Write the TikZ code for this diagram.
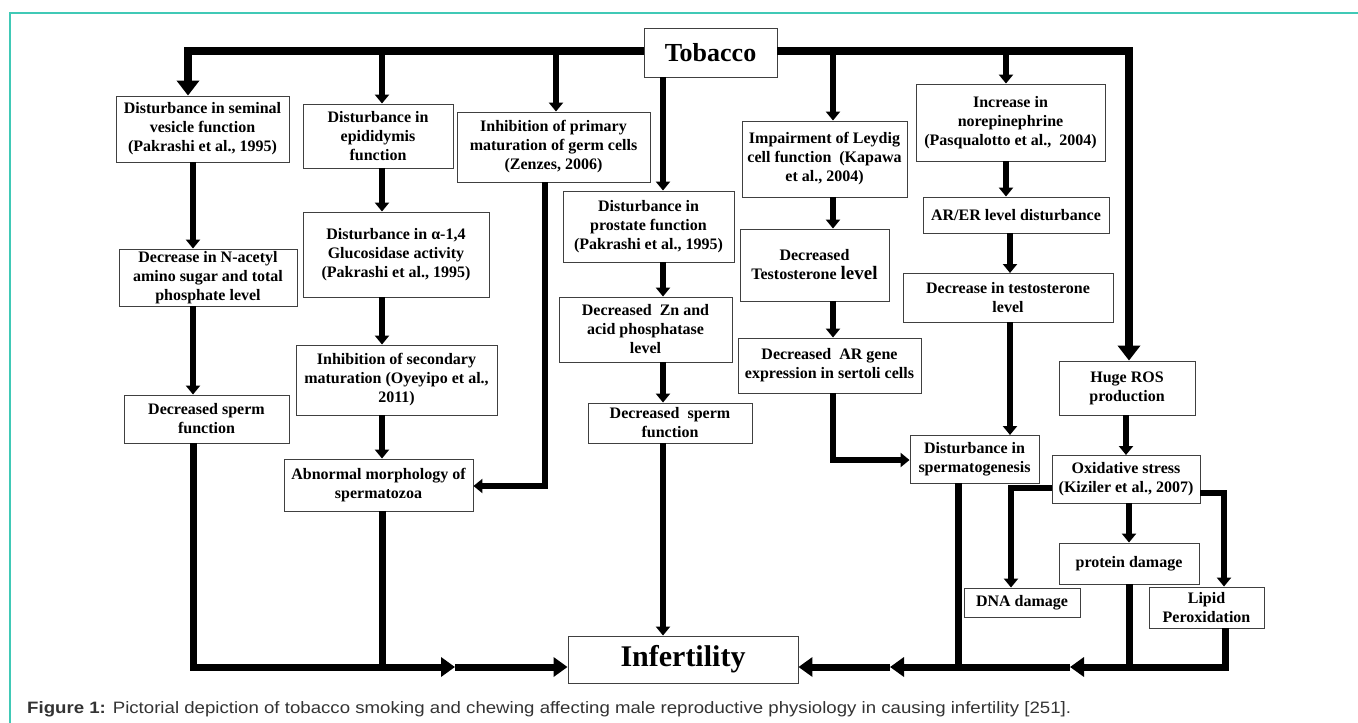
\documentclass[tikz,border=0pt]{standalone}
\usepackage{fontspec}
\setmainfont{Liberation Serif}
\newfontfamily\capfont{Liberation Sans}
\usetikzlibrary{arrows.meta}
\definecolor{frameteal}{RGB}{64,201,182}
\begin{document}
\begin{tikzpicture}[x=1pt,y=-1pt,
 box/.style={draw=black!75, line width=0.9pt, fill=white, align=center, inner sep=0pt, font=\bfseries\fontsize{16}{19}\selectfont},
 arr/.style={line width=6pt, -{Triangle[length=9pt,width=14pt]}},
 bigarr/.style={line width=8pt, -{Triangle[length=15pt,width=22pt]}},
 midarr/.style={line width=7pt, -{Triangle[length=14pt,width=19pt]}},
 conn/.style={line width=6pt},
 thickconn/.style={line width=7pt},
]
\useasboundingbox (0,0) rectangle (1358,723);
\draw[frameteal, line width=1.5pt] (10,723) -- (10,13) -- (1358,13);

% boxes
\node[box, font=\bfseries\fontsize{26}{30}\selectfont, minimum width=133pt, minimum height=49pt] (tobacco) at (710.5,52.5) {Tobacco};
\node[box, minimum width=173pt, minimum height=66pt] (seminal) at (202.5,129) {Disturbance in seminal\\vesicle function\\(Pakrashi et al., 1995)};
\node[box, minimum width=150pt, minimum height=64pt] (epid) at (378,136) {Disturbance in\\epididymis\\function};
\node[box, minimum width=193pt, minimum height=70pt] (primary) at (553.5,147) {Inhibition of primary\\maturation of germ cells\\(Zenzes, 2006)};
\node[box, minimum width=171pt, minimum height=71pt] (prostate) at (648.5,226.5) {Disturbance in\\prostate function\\(Pakrashi et al., 1995)};
\node[box, minimum width=165pt, minimum height=76pt] (leydig) at (824.5,159) {Impairment of Leydig\\cell function \ (Kapawa\\et al., 2004)};
\node[box, minimum width=189pt, minimum height=77pt] (norepi) at (1010.5,122.5) {Increase in\\norepinephrine\\(Pasqualotto et al., \ 2004)};
\node[box, minimum width=178pt, minimum height=57pt] (nacetyl) at (208,277.5) {Decrease in N-acetyl\\amino sugar and total\\phosphate level};
\node[box, minimum width=186pt, minimum height=85pt] (gluco) at (396,254.5) {Disturbance in α-1,4\\Glucosidase activity\\(Pakrashi et al., 1995)};
\node[box, minimum width=173pt, minimum height=65pt] (zn) at (645.5,329.5) {Decreased \ Zn and\\acid phosphatase\\level};
\node[box, minimum width=149pt, minimum height=72pt] (testo) at (814.5,265) {Decreased\\Testosterone {\fontsize{19}{19}\selectfont level}};
\node[box, minimum width=186pt, minimum height=36pt] (arer) at (1016,215) {AR/ER level disturbance};
\node[box, minimum width=210pt, minimum height=49pt] (dectesto) at (1008,297.5) {Decrease in testosterone\\level};
\node[box, minimum width=165pt, minimum height=48pt] (sperm1) at (206.5,419) {Decreased sperm\\function};
\node[box, minimum width=201pt, minimum height=70pt] (secondary) at (396.5,380) {Inhibition of secondary\\maturation (Oyeyipo et al.,\\2011)};
\node[box, minimum width=183pt, minimum height=55pt] (argene) at (829.5,365.5) {Decreased \ AR gene\\expression in sertoli cells};
\node[box, minimum width=164pt, minimum height=40pt] (sperm2) at (670,423) {Decreased \ sperm\\function};
\node[box, minimum width=136pt, minimum height=54pt] (ros) at (1127,388) {Huge ROS\\production};
\node[box, minimum width=189pt, minimum height=52pt] (abnormal) at (378.5,485) {Abnormal morphology of\\spermatozoa};
\node[box, minimum width=129pt, minimum height=48pt] (spermato) at (974.5,459) {Disturbance in\\spermatogenesis};
\node[box, minimum width=148pt, minimum height=48pt] (oxid) at (1126,479) {Oxidative stress\\(Kiziler et al., 2007)};
\node[box, minimum width=140pt, minimum height=41pt] (protein) at (1129,563.5) {protein damage};
\node[box, minimum width=116pt, minimum height=29pt] (dna) at (1022,602.5) {DNA damage};
\node[box, minimum width=115pt, minimum height=41pt] (lipid) at (1206.5,607.5) {Lipid\\Peroxidation};
\node[box, font=\bfseries\fontsize{30}{34}\selectfont, minimum width=230pt, minimum height=47pt] (infert) at (683,659.5) {Infertility};

% turning points
\coordinate (tl) at (188,51);
\coordinate (tr) at (1129,51);
\coordinate (t2) at (382,51);
\coordinate (t3) at (556,51);
\coordinate (t5) at (663,77);
\coordinate (t6) at (833,51);
\coordinate (t7) at (1006,51);
\coordinate (c1) at (193,667);
\coordinate (c2) at (382,667);
\coordinate (m1) at (455,667);
\coordinate (pr) at (545,486);
\coordinate (ag) at (833,460);
\coordinate (od) at (1011,488);
\coordinate (ol) at (1224,493);
\coordinate (lp) at (1225,667);
\coordinate (m3) at (1070,667);
\coordinate (m4) at (890,667);
\coordinate (sp) at (958,667);
\coordinate (pd) at (1129,667);

% top distribution
\draw[bigarr] (tobacco.west |- tl) -- (tl) -- (tl |- seminal.north);
\draw[bigarr] (tobacco.east |- tr) -- (tr) -- (tr |- ros.north);
\draw[arr] (t2) -- (t2 |- epid.north);
\draw[arr] (t3) -- (t3 |- primary.north);
\draw[arr] (t5) -- (t5 |- prostate.north);
\draw[arr] (t6) -- (t6 |- leydig.north);
\draw[arr] (t7) -- (t7 |- norepi.north);

% column 1
\draw[arr] (c1 |- seminal.south) -- (c1 |- nacetyl.north);
\draw[arr] (c1 |- nacetyl.south) -- (c1 |- sperm1.north);
\draw[midarr] (c1 |- sperm1.south) -- (c1) -- (m1);
\draw[midarr] (m1) -- (infert.west |- m1);

% column 2
\draw[arr] (t2 |- epid.south) -- (t2 |- gluco.north);
\draw[arr] (t2 |- gluco.south) -- (t2 |- secondary.north);
\draw[arr] (t2 |- secondary.south) -- (t2 |- abnormal.north);
\draw[thickconn] (c2 |- abnormal.south) -- (c2);
\draw[arr] (pr |- primary.south) -- (pr) -- (abnormal.east |- pr);

% column 3
\draw[arr] (t5 |- prostate.south) -- (t5 |- zn.north);
\draw[arr] (t5 |- zn.south) -- (t5 |- sperm2.north);
\draw[arr] (t5 |- sperm2.south) -- (t5 |- infert.north);

% column 4
\draw[arr] (t6 |- leydig.south) -- (t6 |- testo.north);
\draw[arr] (t6 |- testo.south) -- (t6 |- argene.north);
\draw[arr] (ag |- argene.south) -- (ag) -- (spermato.west |- ag);

% column 5
\draw[arr] (t7 |- norepi.south) -- (t7 |- arer.north);
\draw[arr] (1010,233) -- (1010,273);
\draw[arr] (1010,322) -- (1010,435);

% ROS branch
\draw[arr] (1126,415) -- (1126,455);
\draw[arr] (oxid.west |- od) -- (od) -- (od |- dna.north);
\draw[arr] (oxid.east |- ol) -- (ol) -- (ol |- lipid.north);
\draw[arr] (pd |- oxid.south) -- (pd |- protein.north);

% bottom right collector
\draw[thickconn] (pd |- protein.south) -- (pd);
\draw[thickconn] (sp |- spermato.south) -- (sp);
\draw[midarr] (lp |- lipid.south) -- (lp) -- (m3);
\draw[midarr] (m3) -- (m4);
\draw[midarr] (m4) -- (infert.east |- m4);

% caption
\node[anchor=base west, inner sep=0pt, font=\capfont\fontsize{16.5}{19}\selectfont, text=black!80] (caption) at (27,713) {\scalebox{1.13}[1]{\textbf{Figure 1:} Pictorial depiction of tobacco smoking and chewing affecting male reproductive physiology in causing infertility [251].}};
\end{tikzpicture}
\end{document}
